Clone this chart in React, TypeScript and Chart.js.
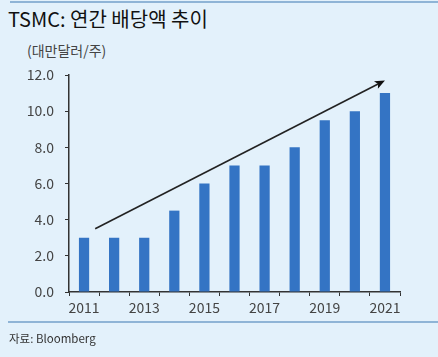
import React, { useEffect, useRef } from "react";
import { Chart, registerables } from "chart.js";

Chart.register(...registerables);

const years = ["2011", "2012", "2013", "2014", "2015", "2016", "2017", "2018", "2019", "2020", "2021"];
const dividends = [3.0, 3.0, 3.0, 4.5, 6.0, 7.0, 7.0, 8.0, 9.5, 10.0, 11.0];
const yTicks = [0, 2, 4, 6, 8, 10, 12];
// trend arrow in data units: [categoryIndex, value]
const arrowStart = [0.37, 3.5];
const arrowEnd = [10.0, 11.7];

const FONT = "'Noto Sans CJK KR', 'Noto Sans', sans-serif";

const arrowPlugin = {
  id: "trendArrow",
  afterDatasetsDraw(chart: any) {
    const { ctx, scales } = chart;
    const x0 = scales.x.getPixelForValue(arrowStart[0]);
    const y0 = scales.y.getPixelForValue(arrowStart[1]);
    const x1 = scales.x.getPixelForValue(arrowEnd[0]);
    const y1 = scales.y.getPixelForValue(arrowEnd[1]);
    const ang = Math.atan2(y1 - y0, x1 - x0);
    const head = 11;
    ctx.save();
    ctx.strokeStyle = "#222";
    ctx.fillStyle = "#111";
    ctx.lineWidth = 1.6;
    ctx.beginPath();
    ctx.moveTo(x0, y0);
    ctx.lineTo(x1 - Math.cos(ang) * head * 0.7, y1 - Math.sin(ang) * head * 0.7);
    ctx.stroke();
    ctx.beginPath();
    ctx.moveTo(x1, y1);
    ctx.lineTo(x1 - head * Math.cos(ang - 0.4), y1 - head * Math.sin(ang - 0.4));
    ctx.lineTo(x1 - head * 0.7 * Math.cos(ang), y1 - head * 0.7 * Math.sin(ang));
    ctx.lineTo(x1 - head * Math.cos(ang + 0.4), y1 - head * Math.sin(ang + 0.4));
    ctx.closePath();
    ctx.fill();
    ctx.restore();
  },
};

export default function App() {
  const ref = useRef<HTMLCanvasElement>(null);
  useEffect(() => {
    document.body.style.margin = "0";
    const chart = new Chart(ref.current!, {
      type: "bar",
      data: {
        labels: years,
        datasets: [
          {
            data: dividends,
            backgroundColor: "#3474c4",
            barPercentage: 0.34,
            categoryPercentage: 1,
          },
        ],
      },
      options: {
        animation: false,
        responsive: false,
        devicePixelRatio: 1,
        layout: { padding: { top: 75, right: 38, bottom: 35, left: 0 } },
        plugins: { legend: { display: false }, tooltip: { enabled: false } },
        scales: {
          x: {
            offset: true,
            grid: { drawOnChartArea: false, drawTicks: true, tickLength: 4, color: "#333", offset: true },
            border: { color: "#333", width: 1.5 },
            ticks: {
              autoSkip: false,
              maxRotation: 0,
              padding: 3,
              color: "#444",
              font: { family: FONT, size: 14 },
              callback: (v: any, i: number) => (i % 2 === 0 ? years[i] : ""),
            },
            afterFit: (s: any) => {
              s.height = 30;
            },
          },
          y: {
            min: 0,
            max: 12,
            afterBuildTicks: (s: any) => {
              s.ticks = yTicks.map((v) => ({ value: v }));
            },
            grid: { drawOnChartArea: false, drawTicks: true, tickLength: 4, color: "#333" },
            border: { color: "#333", width: 1.5 },
            ticks: {
              padding: 11,
              color: "#444",
              font: { family: FONT, size: 14 },
              callback: (v: any) => Number(v).toFixed(1),
            },
            afterFit: (s: any) => {
              s.width = 69;
            },
          },
        },
      },
      plugins: [arrowPlugin],
    });
    return () => chart.destroy();
  }, []);

  return (
    <div style={{ position: "relative", width: 438, height: 357, background: "#e3f1fb", overflow: "hidden", fontFamily: FONT }}>
      <div style={{ position: "absolute", left: 10, right: 0, top: 1, height: 2, background: "#8fb4d6" }} />
      <div style={{ position: "absolute", left: 8, top: 4, fontSize: 20, fontWeight: 400, color: "#111", whiteSpace: "nowrap" }}>
        TSMC: 연간 배당액 추이
      </div>
      <div style={{ position: "absolute", left: 27, top: 40, fontSize: 14, color: "#444", whiteSpace: "nowrap" }}>
        (대만달러/주)
      </div>
      <canvas ref={ref} width={438} height={357} style={{ position: "absolute", left: 0, top: 0 }} />
      <div style={{ position: "absolute", left: 8, right: 0, top: 321, height: 2, background: "#8fb4d6" }} />
      <div style={{ position: "absolute", left: 9, top: 330, fontSize: 11.5, color: "#333", whiteSpace: "nowrap" }}>
        자료: Bloomberg
      </div>
    </div>
  );
}
